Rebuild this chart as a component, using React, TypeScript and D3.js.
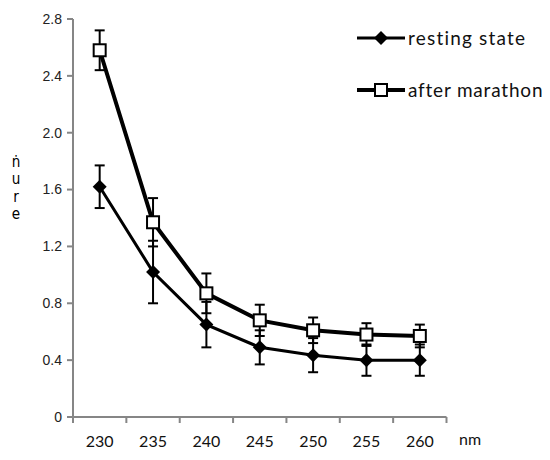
import React from "react";
import * as d3 from "d3";

const categories = ["230", "235", "240", "245", "250", "255", "260"];
const restingValues = [1.62, 1.02, 0.65, 0.49, 0.435, 0.4, 0.4];
const restingErrors = [0.15, 0.22, 0.16, 0.12, 0.12, 0.11, 0.11];
const marathonValues = [2.58, 1.37, 0.87, 0.68, 0.61, 0.58, 0.57];
const marathonErrors = [0.14, 0.17, 0.14, 0.11, 0.09, 0.08, 0.08];
const yTicks = [0, 0.4, 0.8, 1.2, 1.6, 2.0, 2.4, 2.8];
const yTickLabels = ["0", "0.4", "0.8", "1.2", "1.6", "2.0", "2.4", "2.8"];
const seriesNames = ["resting state", "after marathon"];
const yLabelGlyphs = ["ṅ", "u", "r", "e"];

export default function App() {
  const W = 550, H = 460;
  const x0 = 73, x1 = 446.5;
  const y0 = 417, yTop = 19;
  const x = d3.scaleBand<string>().domain(categories).range([x0, x1]).padding(0);
  const y = d3.scaleLinear().domain([0, 2.8]).range([y0, yTop]);
  const cx = (c: string) => (x(c) as number) + x.bandwidth() / 2;
  const line = d3.line<number>().x((_, i) => cx(categories[i])).y((v) => y(v));
  const axisColor = "#868686";
  const cap = 5;
  const legendFont = "Lato, Open Sans, sans-serif";

  const errBars = (vals: number[], errs: number[], key: string) =>
    vals.map((v, i) => {
      const px = cx(categories[i]);
      const hi = y(v + errs[i]);
      const lo = y(v - errs[i]);
      return (
        <g key={key + i} stroke="#000" strokeWidth={2}>
          <line x1={px} x2={px} y1={hi} y2={lo} />
          <line x1={px - cap} x2={px + cap} y1={hi} y2={hi} />
          <line x1={px - cap} x2={px + cap} y1={lo} y2={lo} />
        </g>
      );
    });

  const diamond = (px: number, py: number, k: string) => (
    <path key={k} d={`M${px},${py - 7}L${px + 7},${py}L${px},${py + 7}L${px - 7},${py}Z`} fill="#000" />
  );
  const square = (px: number, py: number, k: string) => (
    <rect key={k} x={px - 6} y={py - 6} width={12} height={12} fill="#fff" stroke="#000" strokeWidth={2} />
  );

  return (
    <svg width={W} height={H} style={{ position: "absolute", left: 0, top: 0, background: "#fff" }}>
      {/* axes */}
      <line x1={x0} x2={x0} y1={yTop} y2={y0} stroke={axisColor} strokeWidth={2} />
      <line x1={x0 - 6} x2={x1} y1={y0} y2={y0} stroke={axisColor} strokeWidth={2} />
      {yTicks.map((t, i) => (
        <g key={"yt" + i}>
          <line x1={x0 - 6} x2={x0} y1={y(t)} y2={y(t)} stroke={axisColor} strokeWidth={2} />
          <text x={x0 - 11} y={y(t)} dy="0.35em" textAnchor="end" fontFamily="Liberation Sans, Arial" fontSize={14} fill="#222">
            {yTickLabels[i]}
          </text>
        </g>
      ))}
      {d3.range(categories.length + 1).map((i) => {
        const px = x0 + i * x.bandwidth();
        return <line key={"xt" + i} x1={px} x2={px} y1={y0} y2={y0 + 6} stroke={axisColor} strokeWidth={2} />;
      })}
      {categories.map((c) => (
        <text key={"xl" + c} x={cx(c)} y={447} textAnchor="middle" fontFamily={legendFont} fontSize={16} fill="#111">
          {c}
        </text>
      ))}
      <text x={470} y={445} textAnchor="middle" fontFamily={legendFont} fontSize={16} fill="#111">nm</text>
      {yLabelGlyphs.map((g, i) => (
        <text key={"yl" + i} x={16} y={167 + i * 17.5} textAnchor="middle" fontFamily="DejaVu Sans" fontSize={16} fill="#000"
          transform={`translate(16,0) scale(0.85,1) translate(-16,0)`}>
          {g}
        </text>
      ))}

      {/* error bars */}
      {errBars(restingValues, restingErrors, "re")}
      {errBars(marathonValues, marathonErrors, "me")}

      {/* lines */}
      <path d={line(restingValues) || ""} fill="none" stroke="#000" strokeWidth={3} />
      <path d={line(marathonValues) || ""} fill="none" stroke="#000" strokeWidth={4} />

      {restingValues.map((v, i) => diamond(cx(categories[i]), y(v), "d" + i))}
      {marathonValues.map((v, i) => square(cx(categories[i]), y(v), "s" + i))}

      {/* legend */}
      <line x1={357} x2={405} y1={38} y2={38} stroke="#000" strokeWidth={3} />
      {diamond(381, 38, "ld")}
      <text x={408} y={38} dy="0.35em" fontFamily={legendFont} fontSize={19} letterSpacing={1.2} fill="#111">{seriesNames[0]}</text>
      <line x1={357} x2={405} y1={90} y2={90} stroke="#000" strokeWidth={4} />
      {square(381, 90, "ls")}
      <text x={408} y={90} dy="0.35em" fontFamily={legendFont} fontSize={19} letterSpacing={0.8} fill="#111">{seriesNames[1]}</text>
    </svg>
  );
}
